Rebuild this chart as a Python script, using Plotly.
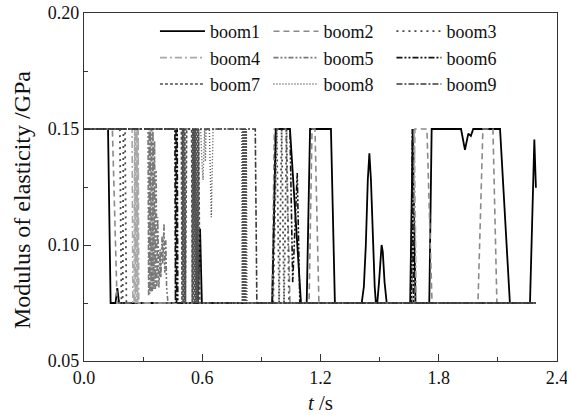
import plotly.graph_objects as go

# Time samples (s) and modulus values (GPa) for each boom section
boom1_t = [0.0, 0.122, 0.135, 0.160, 0.169, 0.178, 0.578, 0.589, 0.598, 0.955, 0.973, 1.045,
           1.101, 1.130, 1.147, 1.253, 1.273, 1.409, 1.420, 1.430, 1.440, 1.448, 1.456, 1.466,
           1.475, 1.481, 1.488, 1.497, 1.505, 1.510, 1.516, 1.525, 1.536, 1.655, 1.668, 1.682,
           1.752, 1.764, 1.913, 1.933, 1.950, 1.963, 1.975, 2.111, 2.161, 2.263, 2.285, 2.293]
boom1_e = [0.15, 0.15, 0.075, 0.075, 0.0814, 0.075, 0.075, 0.107, 0.075, 0.075, 0.15, 0.15,
           0.075, 0.075, 0.15, 0.15, 0.075, 0.075, 0.082, 0.100, 0.128, 0.1395, 0.128, 0.100,
           0.082, 0.075, 0.075, 0.084, 0.097, 0.100, 0.097, 0.084, 0.075, 0.075, 0.15, 0.075,
           0.075, 0.15, 0.15, 0.141, 0.148, 0.147, 0.15, 0.15, 0.075, 0.075, 0.1455, 0.1247]

boom2_t = [0.0, 0.144, 0.168, 0.954, 0.966, 1.025, 1.045, 1.142, 1.157, 1.172, 1.192, 1.664,
           1.679, 1.740, 1.766, 1.999, 2.024, 2.075, 2.095, 2.293]
boom2_e = [0.15, 0.15, 0.075, 0.075, 0.15, 0.15, 0.075, 0.075, 0.15, 0.15, 0.075, 0.075,
           0.15, 0.15, 0.075, 0.075, 0.15, 0.15, 0.075, 0.075]

boom3_t = [0.0, 0.182, 0.190, 0.196, 0.200, 0.208, 0.215, 0.960, 0.978, 0.990, 1.003, 1.015,
           1.028, 1.040, 2.293]
boom3_e = [0.15, 0.15, 0.075, 0.075, 0.15, 0.15, 0.075, 0.075, 0.15, 0.075, 0.15, 0.075,
           0.15, 0.075, 0.075]

boom4_t = [0.0, 0.244, 0.248, 0.254, 0.257, 0.260, 0.263, 0.266, 0.269, 0.272, 0.275, 0.278,
           1.668, 1.676, 1.686, 2.293]
boom4_e = [0.15, 0.15, 0.075, 0.075, 0.15, 0.075, 0.15, 0.075, 0.15, 0.075, 0.15, 0.075,
           0.075, 0.15, 0.075, 0.075]

boom5_t = [0.0, 0.325, 0.328, 0.331, 0.334, 0.337, 0.340, 0.343, 0.347, 0.350, 0.354, 0.358,
           0.362, 0.366, 0.370, 0.374, 0.380, 0.386, 0.390, 0.396, 0.400, 0.406, 0.410, 0.415,
           0.419, 0.426, 2.293]
boom5_e = [0.15, 0.15, 0.078, 0.15, 0.079, 0.15, 0.080, 0.15, 0.080, 0.15, 0.081, 0.145,
           0.081, 0.132, 0.082, 0.112, 0.0817, 0.098, 0.086, 0.104, 0.092, 0.109, 0.088, 0.102,
           0.082, 0.075, 0.075]

boom6_t = [0.0, 0.461, 0.464, 0.467, 0.470, 0.473, 0.476, 0.479, 0.955, 0.973, 1.045, 1.059,
           1.082, 1.095, 1.660, 1.666, 1.672, 2.293]
boom6_e = [0.15, 0.15, 0.075, 0.15, 0.075, 0.15, 0.075, 0.075, 0.075, 0.15, 0.15, 0.084,
           0.131, 0.075, 0.075, 0.15, 0.075, 0.075]

boom7_t = [0.0, 0.494, 0.497, 0.500, 0.503, 0.506, 0.509, 0.512, 0.515, 0.518, 0.521, 0.546,
           0.549, 0.552, 0.555, 0.558, 0.561, 0.564, 0.567, 0.570, 0.573, 0.576, 0.579, 0.582,
           0.585, 0.588, 2.293]
boom7_e = [0.15, 0.15, 0.075, 0.15, 0.075, 0.15, 0.075, 0.15, 0.075, 0.15, 0.15, 0.15,
           0.075, 0.15, 0.075, 0.15, 0.075, 0.15, 0.075, 0.15, 0.075, 0.15, 0.075, 0.15,
           0.075, 0.075, 0.075]

boom8_t = [0.0, 0.592, 0.600, 0.604, 0.608, 0.612, 0.616, 0.620, 0.636, 0.642, 0.646, 0.650,
           0.655, 0.800, 0.803, 0.806, 0.809, 0.812, 0.815, 0.818, 0.821, 0.824, 0.827, 2.293]
boom8_e = [0.15, 0.15, 0.133, 0.128, 0.140, 0.150, 0.136, 0.150, 0.150, 0.125, 0.112, 0.130,
           0.150, 0.15, 0.075, 0.15, 0.075, 0.15, 0.075, 0.15, 0.075, 0.15, 0.075, 0.075]

boom9_t = [0.0, 0.869, 0.877, 2.293]
boom9_e = [0.15, 0.15, 0.075, 0.075]

x_ticks = [0.0, 0.6, 1.2, 1.8, 2.4]
x_labels = ["0.0", "0.6", "1.2", "1.8", "2.4"]
y_ticks = [0.05, 0.10, 0.15, 0.20]
y_labels = ["0.05", "0.10", "0.15", "0.20"]

series = [
    ("boom1", boom1_t, boom1_e, "#000000", "solid", 1.8, "legend"),
    ("boom2", boom2_t, boom2_e, "#8a8a8a", "6px,4px", 1.6, "legend2"),
    ("boom3", boom3_t, boom3_e, "#4a4a4a", "2px,4px", 1.8, "legend3"),
    ("boom4", boom4_t, boom4_e, "#a8a8a8", "7px,3px,2px,3px", 1.6, "legend"),
    ("boom5", boom5_t, boom5_e, "#787878", "5px,2px,2px,2px,2px,2px", 1.6, "legend2"),
    ("boom6", boom6_t, boom6_e, "#111111", "6px,2px,2px,2px,2px,2px", 1.6, "legend3"),
    ("boom7", boom7_t, boom7_e, "#505050", "3px,2px", 1.6, "legend"),
    ("boom8", boom8_t, boom8_e, "#555555", "1px,2px", 1.4, "legend2"),
    ("boom9", boom9_t, boom9_e, "#3a3a3a", "6px,2px,2px,2px", 1.6, "legend3"),
]

fig = go.Figure()
for name, t, e, color, dash, width, leg in series:
    fig.add_trace(go.Scatter(
        x=t, y=e, mode="lines", name=name,
        line=dict(color=color, dash=dash, width=width),
        legend=leg,
    ))

FONT = "Liberation Serif, Times New Roman, serif"

legend_common = dict(
    orientation="v", yanchor="top", y=1.0, xanchor="left",
    bgcolor="rgba(0,0,0,0)", borderwidth=0, itemwidth=45,
    font=dict(family=FONT, size=18, color="#111"),
    traceorder="normal",
)

fig.update_layout(
    width=567, height=415,
    margin=dict(l=84, r=10, t=13, b=54),
    paper_bgcolor="white", plot_bgcolor="white",
    font=dict(family=FONT, size=18, color="#111"),
    legend=dict(x=0.15, **legend_common),
    legend2=dict(x=0.39, **legend_common),
    legend3=dict(x=0.65, **legend_common),
    xaxis=dict(
        range=[0, 2.4], tickvals=x_ticks, ticktext=x_labels,
        automargin=False, ticklabeloverflow="allow",
        ticks="inside", ticklen=7, tickwidth=1.2, tickcolor="#333",
        minor=dict(dtick=0.3, ticks="inside", ticklen=4, tickwidth=1.2, tickcolor="#333"),
        showline=True, linecolor="#333", linewidth=1.4, mirror=True,
        showgrid=False, zeroline=False,
        tickfont=dict(family=FONT, size=18, color="#111"),
        title=dict(text="<i>t</i> /s", font=dict(family=FONT, size=21, color="#111"), standoff=12),
    ),
    yaxis=dict(
        range=[0.05, 0.20], tickvals=y_ticks, ticktext=y_labels,
        automargin=False, ticklabeloverflow="allow",
        ticks="inside", ticklen=7, tickwidth=1.2, tickcolor="#333",
        minor=dict(dtick=0.025, ticks="inside", ticklen=4, tickwidth=1.2, tickcolor="#333"),
        showline=True, linecolor="#333", linewidth=1.4, mirror=True,
        showgrid=False, zeroline=False,
        tickfont=dict(family=FONT, size=18, color="#111"),
    ),
    annotations=[dict(
        text="Modulus of elasticity /GPa", textangle=-90,
        xref="paper", yref="paper", x=-(84 - 22) / 473, y=(361 - 200) / 348,
        xanchor="center", yanchor="middle", showarrow=False,
        font=dict(family=FONT, size=24, color="#111"),
    )],
)

fig.write_html("out.html")
